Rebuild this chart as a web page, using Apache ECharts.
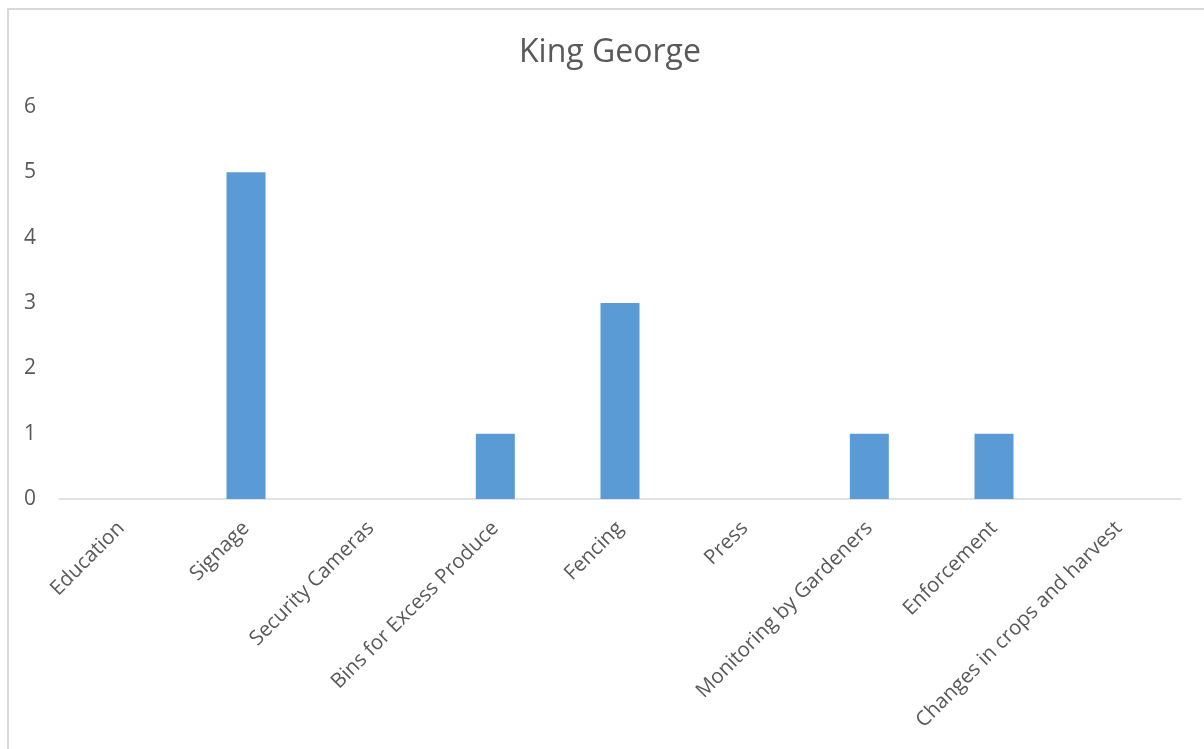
<!DOCTYPE html>
<html>
<head>
<meta charset="utf-8">
<script src="https://cdn.jsdelivr.net/npm/echarts@6/dist/echarts.min.js"></script>
<style>
html,body{margin:0;padding:0;background:#fff;overflow:hidden;}
#frame{position:absolute;left:7px;top:8px;width:1300px;height:900px;border:2px solid #d9d9d9;box-sizing:border-box;}
#chart{position:absolute;left:0;top:0;width:1204px;height:749px;}
</style>
</head>
<body>
<div id="frame"></div>
<div id="chart"></div>
<script>
const title = "King George";
const categories = ["Education","Signage","Security Cameras","Bins for Excess Produce","Fencing","Press","Monitoring by Gardeners","Enforcement","Changes in crops and harvest"];
const values = [0,5,0,1,3,0,1,1,0];
const yTicks = [0,1,2,3,4,5,6];

const chart = echarts.init(document.getElementById('chart'), null, {renderer:'canvas'});
chart.setOption({
  animation:false,
  backgroundColor:'transparent',
  title:{text:title,left:514,top:32,textStyle:{fontFamily:'Open Sans',fontSize:32,fontWeight:'normal',color:'#595959'}},
  grid:{left:59,right:23,top:107,bottom:250,containLabel:false},
  xAxis:{type:'category',data:categories,
    axisLine:{lineStyle:{color:'#d9d9d9',width:1.5}},
    axisTick:{show:false},
    axisLabel:{rotate:45,interval:0,margin:26,fontFamily:'Open Sans',fontSize:20.5,color:'#595959'}},
  yAxis:{type:'value',min:yTicks[0],max:yTicks[yTicks.length-1],interval:1,
    axisLine:{show:false},axisTick:{show:false},splitLine:{show:false},
    axisLabel:{margin:23,fontFamily:'Open Sans',fontSize:21,color:'#595959'}},
  series:[{type:'bar',data:values,barWidth:39,itemStyle:{color:'#5b9bd5',borderWidth:0}}]
});
</script>
</body>
</html>
